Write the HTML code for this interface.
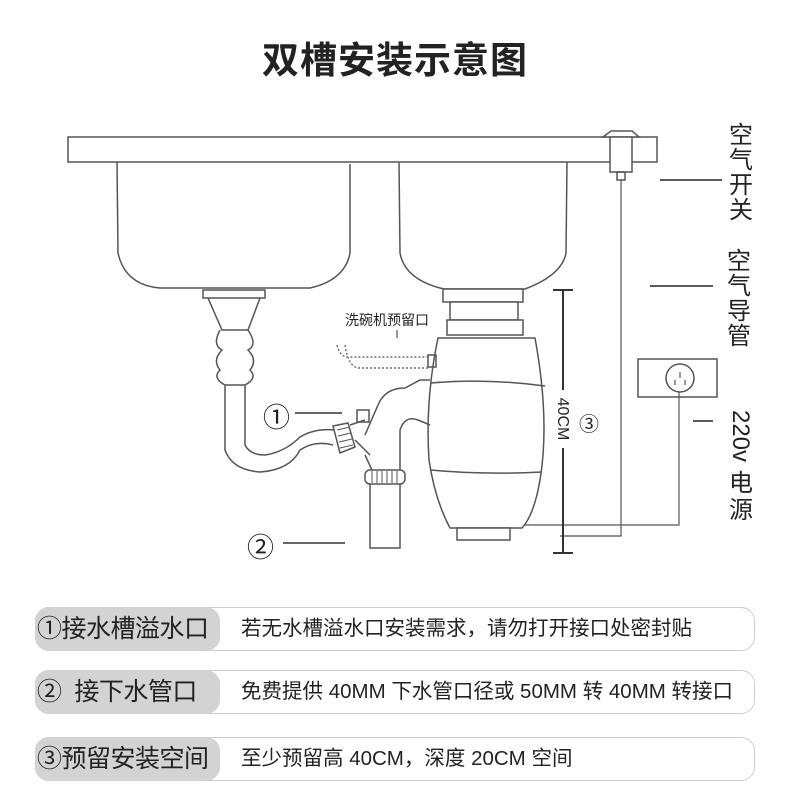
<!DOCTYPE html>
<html><head><meta charset="utf-8"><style>
*{margin:0;padding:0;box-sizing:border-box}
body{width:790px;height:798px;background:#fff;position:relative;overflow:hidden;font-family:"Liberation Sans","Noto Sans CJK SC",sans-serif;color:#222}
.title{position:absolute;top:30px;left:0;width:790px;text-align:center;font-size:37px;font-weight:bold;letter-spacing:1px;color:#222}
.row{position:absolute;left:35px;width:720px;height:44px;border:1px solid #ccc;border-radius:14px;background:#fff}
.tag{position:absolute;left:-1px;top:-1px;height:44px;width:185px;background:#d3d3d3;border-radius:14px;font-size:25px;line-height:44px;padding-left:2px;color:#222;white-space:nowrap;letter-spacing:-0.5px}
.desc{position:absolute;left:205px;top:0;line-height:42px;font-size:20.5px;color:#222;white-space:nowrap}
.vt{position:absolute;font-size:24px;line-height:25px;width:28px;text-align:center;color:#222}
</style></head><body>
<div class="title">双槽安装示意图</div>
<svg width="790" height="600" style="position:absolute;left:0;top:0" fill="none" stroke="#555" stroke-width="1.5">
<rect x="68" y="137" width="589" height="25" fill="#fff"/>
<path d="M117 162 L118 253 Q125 285 160 288 L310 288 Q345 280 350 253 L350 164"/>
<path d="M399 162 L400 253 Q405 280 444 289 L525 289 Q562 275 566 253 L567 162"/>
<path d="M603 137 L611 131 L632 131 L639 137 Z" fill="#fff"/>
<rect x="610" y="137" width="22" height="35" fill="#fff"/>
<rect x="617" y="172" width="8" height="8"/>
<path d="M621 180 L621 536 L560 536" stroke-width="1.2"/>
<rect x="638" y="359" width="79" height="38"/>
<circle cx="680" cy="378" r="14"/>
<path d="M680 372v6M675 380v5M685 380v5" stroke-width="1.2"/>
<path d="M679 392 L679 525 L525 525" stroke-width="1.2"/>
<path d="M660 180h62M650 286h63M693 421h20" stroke="#222"/>
<path d="M563 290 L563 390 M563 448 L563 553 M553 290h20M553 553h20" stroke="#333" stroke-width="2"/>
<rect x="443" y="289" width="80" height="13" fill="#fff"/>
<rect x="450" y="302" width="68" height="18" fill="#fff"/>
<path d="M447 320 L523 320 L523 335 L447 335Z" fill="#fff"/>
<path d="M438 338 L535 338 Q550 420 540 480 Q534 515 522 528 L450 528 Q435 500 429 460 Q425 400 438 338Z" fill="#fff"/>
<path d="M431 383 Q485 378 545 386 M430 470 Q485 475 542 472"/>
<rect x="457" y="528" width="53" height="12" fill="#fff"/>
<path d="M337 345 Q340 358 350 357 L430 357 M345 345 Q348 366 358 368 L430 368" stroke-dasharray="2 2" stroke-width="1.2"/>
<rect x="428" y="355" width="8" height="12"/>
<path d="M430 380 L420 380 L405 388 Q385 388 378 405 L365 435 M430 425 L418 420 Q405 415 400 430 L400 470" />
<path d="M370 470 L370 548 L400 548 L400 470" fill="#fff"/>
<rect x="365" y="470" width="40" height="14" rx="5" fill="#fff"/>
<path d="M372 471v12M377 471v12M382 471v12M387 471v12M392 471v12M397 471v12" stroke-width="1"/>
<rect x="357" y="410" width="12" height="12" fill="#fff"/>
<path d="M365 455 L372 470"/>
<path d="M203 290 L265 290 L265 298 L203 298Z" fill="#fff"/>
<path d="M208 298 L222 330 L248 330 L260 298"/>
<path d="M220 330 Q212 345 222 350 Q212 360 220 370 Q212 378 225 385 L245 385 Q258 378 250 370 Q258 360 248 350 Q258 345 248 330"/>
<path d="M225 385 L225 450 Q232 470 260 472 Q290 470 300 450 Q315 440 333 445 M245 385 L245 445 Q250 455 265 455 Q285 452 300 437 Q315 428 335 430"/>
<path d="M333 426 L348 423 L355 447 L340 453 Z" fill="#fff"/>
<path d="M337 430l13-3M338 436l13-3M339 442l13-3M340 448l13-3" stroke-width="1"/>
<path d="M355 440 L370 455 M350 425 L365 420"/>
<path d="M295 413h47M283 543h62" stroke="#333"/>
<path d="M397 330v8" stroke="#333" stroke-width="1"/>
</svg>
<div style="position:absolute;left:263px;top:396px;font-size:27px">①</div>
<div style="position:absolute;left:247px;top:526px;font-size:27px">②</div>
<div style="position:absolute;left:579px;top:408px;font-size:20px">③</div>
<div style="position:absolute;left:345px;top:310px;font-size:14px">洗碗机预留口</div>
<div style="position:absolute;left:532px;top:410px;width:60px;text-align:center;font-size:16px;transform:rotate(90deg)">40CM</div>
<div class="vt" style="left:727px;top:123px">空<br>气<br>开<br>关</div>
<div class="vt" style="left:725px;top:249px">空<br>气<br>导<br>管</div>
<div style="position:absolute;left:702px;top:422px;width:76px;text-align:center;font-size:24px;line-height:28px;transform:rotate(90deg)">220v</div>
<div class="vt" style="left:727px;top:470px;line-height:27px">电<br>源</div>
<div class="row" style="top:607px"><div class="tag">①接水槽溢水口</div><div class="desc">若无水槽溢水口安装需求，请勿打开接口处密封贴</div></div>
<div class="row" style="top:670px"><div class="tag">②&nbsp;&nbsp;接下水管口</div><div class="desc">免费提供 40MM 下水管口径或 50MM 转 40MM 转接口</div></div>
<div class="row" style="top:737px"><div class="tag">③预留安装空间</div><div class="desc">至少预留高 40CM，深度 20CM 空间</div></div>
</body></html>
